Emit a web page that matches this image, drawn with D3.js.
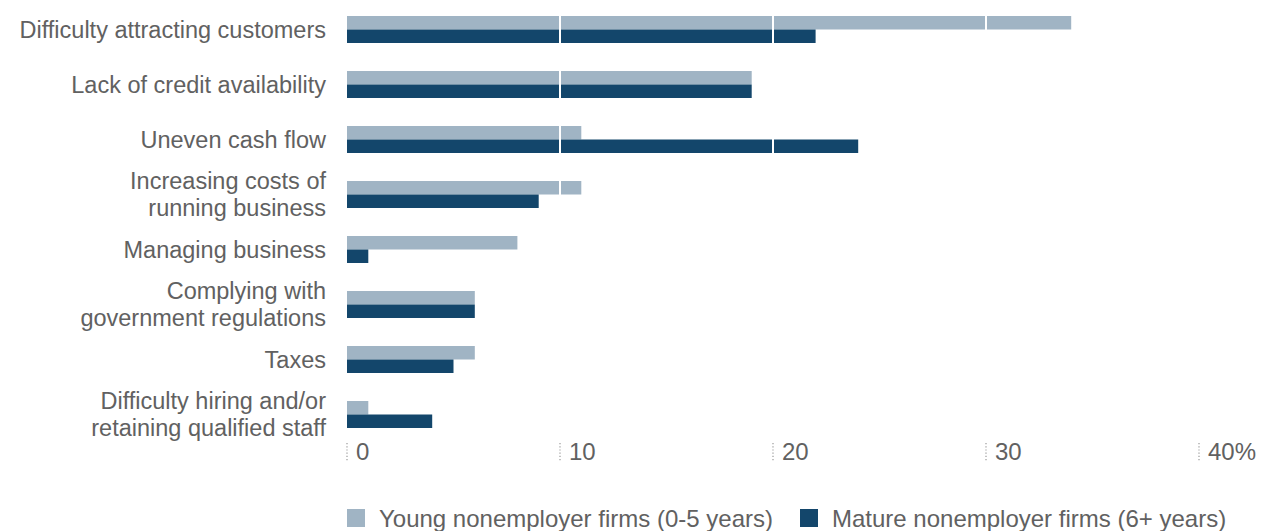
<!DOCTYPE html>
<html>
<head>
<meta charset="utf-8">
<script src="https://cdn.jsdelivr.net/npm/d3@7"></script>
<style>
  html, body { margin: 0; padding: 0; background: #fff; }
  svg { display: block; font-family: "Liberation Sans", Arial, sans-serif; }
</style>
</head>
<body>
<svg id="chart" width="1262" height="531"></svg>
<script>
// Challenges reported by nonemployer firms, share of firms (%)
const categories = [
  ["Difficulty attracting customers"],
  ["Lack of credit availability"],
  ["Uneven cash flow"],
  ["Increasing costs of", "running business"],
  ["Managing business"],
  ["Complying with", "government regulations"],
  ["Taxes"],
  ["Difficulty hiring and/or", "retaining qualified staff"]
];
const seriesNames = ["Young nonemployer firms (0-5 years)", "Mature nonemployer firms (6+ years)"];
const youngValues  = [34, 19, 11, 11, 8, 6, 6, 1];
const matureValues = [22, 19, 24, 9, 1, 6, 5, 4];
const tickValues = [0, 10, 20, 30, 40];
const tickLabels = ["0", "10", "20", "30", "40%"];
const colors = ["#a0b4c4", "#13466b"];

const svg = d3.select("#chart");
const textColor = "#616161";
const fontSize = 24;
const labelFontSize = 23.5;

const x = d3.scaleLinear().domain([0, 40]).range([347, 1199]);
const keys = categories.map(c => c.join(" "));
const y = d3.scaleBand().domain(keys).range([2, 442]).paddingInner(0).paddingOuter(0);
const groupH = 27;
const inner = d3.scaleBand().domain([0, 1]).range([0, groupH]);

const rows = keys.map((k, i) => ({ key: k, lines: categories[i], vals: [youngValues[i], matureValues[i]] }));

// Bars
const g = svg.append("g");
rows.forEach(r => {
  const top = y(r.key) + (y.bandwidth() - groupH) / 2;
  r.vals.forEach((v, s) => {
    g.append("rect")
      .attr("x", x(0))
      .attr("y", top + inner(s))
      .attr("width", x(v) - x(0))
      .attr("height", inner.bandwidth())
      .attr("fill", colors[s]);
  });
});

// White gridlines drawn across the bars
svg.append("g").selectAll("line")
  .data(tickValues.filter(t => t > 0 && t < 40))
  .join("line")
  .attr("x1", d => x(d)).attr("x2", d => x(d))
  .attr("y1", 8).attr("y2", 440)
  .attr("stroke", "#fff").attr("stroke-width", 2);

// Category labels, right-aligned, wrapped onto two lines where needed
const labels = svg.append("g")
  .attr("font-size", labelFontSize)
  .attr("fill", textColor)
  .attr("text-anchor", "end");
const lh = 26.5;
rows.forEach(r => {
  const cy = y(r.key) + y.bandwidth() / 2;
  const n = r.lines.length;
  r.lines.forEach((line, j) => {
    labels.append("text")
      .attr("x", 326)
      .attr("y", cy + (j - (n - 1) / 2) * lh)
      .attr("dy", "0.35em")
      .text(line);
  });
});

// X axis: dotted ticks with labels to the right
const axis = svg.append("g").selectAll("g")
  .data(tickValues)
  .join("g")
  .attr("transform", d => `translate(${x(d)},0)`);
axis.append("line")
  .attr("y1", 443).attr("y2", 462)
  .attr("stroke", "#9a9a9a").attr("stroke-width", 1.2)
  .attr("stroke-dasharray", "1.2,2");
axis.append("text")
  .attr("x", 9).attr("y", 452).attr("dy", "0.35em")
  .attr("font-size", fontSize).attr("fill", textColor)
  .text((d, i) => tickLabels[i]);

// Legend
const legendX = [347, 800];
const legend = svg.append("g").selectAll("g")
  .data(seriesNames)
  .join("g")
  .attr("transform", (d, i) => `translate(${legendX[i]},509)`);
legend.append("rect")
  .attr("width", 18).attr("height", 18)
  .attr("fill", (d, i) => colors[i]);
legend.append("text")
  .attr("x", 32).attr("y", 10).attr("dy", "0.35em")
  .attr("font-size", fontSize).attr("fill", textColor)
  .text(d => d);
</script>
</body>
</html>
